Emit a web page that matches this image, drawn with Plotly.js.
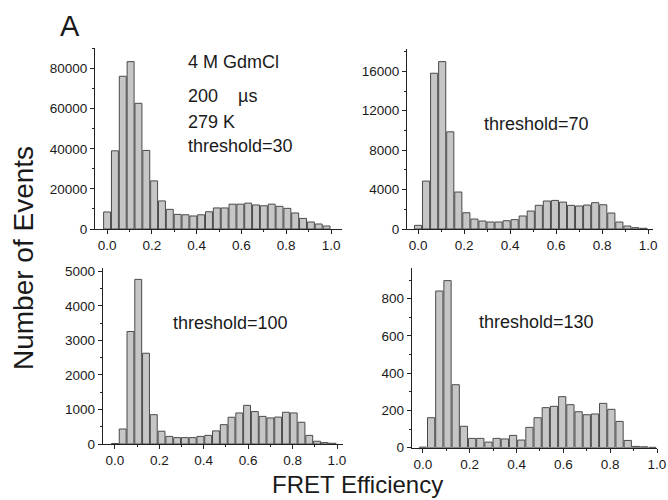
<!DOCTYPE html>
<html>
<head>
<meta charset="utf-8">
<script src="https://cdn.plot.ly/plotly-3.0.1.min.js"></script>
<style>html,body{margin:0;padding:0;background:#fff;}#chart{width:668px;height:500px;}</style>
</head>
<body>
<div id="chart"></div>
<script>
// FRET efficiency bin centres (shared by all panels)
const binCenters = [0.000, 0.035, 0.070, 0.105, 0.140, 0.175, 0.210, 0.245, 0.280, 0.315,
                    0.350, 0.385, 0.420, 0.455, 0.490, 0.525, 0.560, 0.595, 0.630, 0.665,
                    0.700, 0.735, 0.770, 0.805, 0.840, 0.875, 0.910, 0.945, 0.980];

// Number of events per bin, for each threshold
const counts30  = [8500, 39000, 76200, 83500, 62700, 39200, 24000, 14000, 9800, 7300,
                   7100, 6500, 7100, 8600, 10500, 10500, 12400, 12400, 12900, 12000,
                   11600, 12400, 11300, 10300, 8000, 5300, 3500, 2500, 1500];
const counts70  = [370, 4860, 15800, 16980, 9860, 3750, 1650, 1010, 810, 710,
                   710, 840, 950, 1320, 1820, 2400, 2840, 2900, 2730, 2400,
                   2330, 2430, 2670, 2460, 1620, 710, 300, 135, 70];
const counts100 = [15, 435, 3260, 4770, 2630, 850, 370, 220, 185, 185,
                   185, 220, 250, 380, 560, 775, 900, 1120, 940, 800,
                   755, 780, 920, 900, 630, 250, 80, 40, 20];
const counts130 = [3, 161, 841, 897, 338, 115, 50, 50, 30, 50,
                   47, 66, 41, 109, 161, 215, 222, 274, 231, 193,
                   177, 181, 238, 206, 141, 39, 7, 5, 2];

const panelLabels = ["threshold=30", "threshold=70", "threshold=100", "threshold=130"];
const conditionLines = ["4 M GdmCl", "200\u00A0\u00A0\u00A0\u00A0\u00B5s", "279 K"];
const yTitle = "Number of Events";
const xTitle = "FRET Efficiency";
const panelLetter = "A";

const FONT = '"Liberation Sans", Arial, Helvetica, sans-serif';
const W = 668, H = 500;
const px = v => v / W;
const py = v => 1 - v / H;

function bars(y, xa, ya) {
  return {
    type: 'bar', x: binCenters, y: y, xaxis: xa, yaxis: ya,
    width: 0.031,
    marker: {color: '#c6c6c6', line: {color: '#4a4a4a', width: 1}},
    hoverinfo: 'x+y', showlegend: false
  };
}

const data = [
  bars(counts30, 'x', 'y'),
  bars(counts70, 'x2', 'y2'),
  bars(counts100, 'x3', 'y3'),
  bars(counts130, 'x4', 'y4')
];

function xax(domain, range, anchor) {
  return {
    domain: domain, range: range, anchor: anchor,
    showline: true, linecolor: '#222', linewidth: 1,
    showgrid: false, zeroline: false,
    ticks: 'outside', ticklen: 4, tickcolor: '#222', tickwidth: 1,
    dtick: 0.2, tick0: 0, tickformat: '.1f',
    minor: {ticks: 'outside', ticklen: 2, tickcolor: '#222', dtick: 0.1, tick0: 0, showgrid: false},
    tickfont: {family: FONT, size: 13.5, color: '#1a1a1a'},
    fixedrange: true
  };
}
function yax(domain, range, dtick, anchor) {
  return {
    domain: domain, range: range, anchor: anchor,
    showline: true, linecolor: '#222', linewidth: 1,
    showgrid: false, zeroline: false,
    ticks: 'outside', ticklen: 4, tickcolor: '#222', tickwidth: 1,
    dtick: dtick, tick0: 0, tickformat: 'd',
    minor: {ticks: 'outside', ticklen: 2, tickcolor: '#222', dtick: dtick / 2, tick0: 0, showgrid: false},
    tickfont: {family: FONT, size: 13.5, color: '#1a1a1a'},
    fixedrange: true
  };
}

function ann(text, x, y, size, extra) {
  return Object.assign({
    text: text, xref: 'paper', yref: 'paper', x: px(x), y: py(y),
    xanchor: 'left', yanchor: 'middle', showarrow: false,
    font: {family: FONT, size: size, color: '#1a1a1a'}
  }, extra || {});
}

const layout = {
  width: W, height: H, autosize: false,
  margin: {l: 0, r: 0, t: 0, b: 0},
  paper_bgcolor: '#ffffff', plot_bgcolor: 'rgba(0,0,0,0)',
  bargap: 0,
  xaxis:  xax([px(95), px(342)],    [-0.054, 1.049], 'y'),
  yaxis:  yax([py(229), py(48)],    [0, 90300], 20000, 'x'),
  xaxis2: xax([px(407), px(652.7)], [-0.048, 1.020], 'y2'),
  yaxis2: yax([py(229), py(49.3)],  [0, 18230], 4000, 'x2'),
  xaxis3: xax([px(102.7), px(343)], [-0.055, 1.027], 'y3'),
  yaxis3: yax([py(444), py(268)],   [0, 5100], 1000, 'x3'),
  xaxis4: xax([px(411.7), px(657)], [-0.048, 1.0], 'y4'),
  yaxis4: yax([py(447.7), py(268.3)], [0, 963], 200, 'x4'),
  annotations: [
    ann(panelLetter, 58, 26, 29),
    ann(conditionLines[0], 186, 62, 18),
    ann(conditionLines[1], 186, 96, 18),
    ann(conditionLines[2], 186, 122, 18),
    ann(panelLabels[0], 186, 146, 18),
    ann(panelLabels[1], 482, 124, 18),
    ann(panelLabels[2], 171, 323, 18),
    ann(panelLabels[3], 477, 322, 18),
    ann(yTitle, 23, 258, 28, {xanchor: 'center', textangle: -90}),
    ann(xTitle, 357, 484, 24, {xanchor: 'center'})
  ]
};

Plotly.newPlot('chart', data, layout, {displayModeBar: false, staticPlot: true});
</script>
</body>
</html>
